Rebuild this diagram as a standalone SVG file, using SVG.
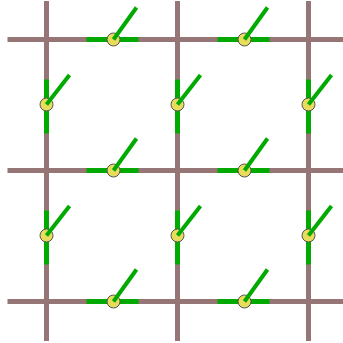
<svg xmlns="http://www.w3.org/2000/svg" width="343" height="343" viewBox="0 0 343 343">
<style>
.grid{stroke:#957575;stroke-width:5;fill:none}
.bar{stroke:#00aa00;stroke-width:5;fill:none}
.stem{stroke:#00aa00;stroke-width:4;stroke-linecap:butt;fill:none}
.site{fill:#e8dc5a;stroke:#555555;stroke-width:1}
</style>
<rect width="343" height="343" fill="#ffffff"/>
<g id="connectors">
<line class="grid" x1="46.5" y1="1" x2="46.5" y2="341"/>
<line class="grid" x1="177.5" y1="1" x2="177.5" y2="341"/>
<line class="grid" x1="308.5" y1="1" x2="308.5" y2="341"/>
<line class="grid" x1="7.5" y1="39.5" x2="343" y2="39.5"/>
<line class="grid" x1="7.5" y1="170.5" x2="343" y2="170.5"/>
<line class="grid" x1="7.5" y1="301.5" x2="343" y2="301.5"/>
</g>
<g id="h1"><line class="bar" x1="86.5" y1="39.5" x2="138.5" y2="39.5"/><circle class="site" cx="113.5" cy="39.5" r="6.5"/><line class="stem" x1="113.5" y1="39.5" x2="136.5" y2="7.5"/></g>
<g id="h2"><line class="bar" x1="217.5" y1="39.5" x2="269.5" y2="39.5"/><circle class="site" cx="244.5" cy="39.5" r="6.5"/><line class="stem" x1="244.5" y1="39.5" x2="267.5" y2="7.5"/></g>
<g id="h3"><line class="bar" x1="86.5" y1="170.5" x2="138.5" y2="170.5"/><circle class="site" cx="113.5" cy="170.5" r="6.5"/><line class="stem" x1="113.5" y1="170.5" x2="136.5" y2="138.5"/></g>
<g id="h4"><line class="bar" x1="217.5" y1="170.5" x2="269.5" y2="170.5"/><circle class="site" cx="244.5" cy="170.5" r="6.5"/><line class="stem" x1="244.5" y1="170.5" x2="267.5" y2="138.5"/></g>
<g id="h5"><line class="bar" x1="86.5" y1="301.5" x2="138.5" y2="301.5"/><circle class="site" cx="113.5" cy="301.5" r="6.5"/><line class="stem" x1="113.5" y1="301.5" x2="136.5" y2="269.5"/></g>
<g id="h6"><line class="bar" x1="217.5" y1="301.5" x2="269.5" y2="301.5"/><circle class="site" cx="244.5" cy="301.5" r="6.5"/><line class="stem" x1="244.5" y1="301.5" x2="267.5" y2="269.5"/></g>
<g id="v1"><line class="bar" x1="46.5" y1="79.5" x2="46.5" y2="133.5"/><circle class="site" cx="46.5" cy="104.5" r="6.5"/><line class="stem" x1="46.5" y1="104.5" x2="69.5" y2="75"/></g>
<g id="v2"><line class="bar" x1="177.5" y1="79.5" x2="177.5" y2="133.5"/><circle class="site" cx="177.5" cy="104.5" r="6.5"/><line class="stem" x1="177.5" y1="104.5" x2="200.5" y2="75"/></g>
<g id="v3"><line class="bar" x1="308.5" y1="79.5" x2="308.5" y2="133.5"/><circle class="site" cx="308.5" cy="104.5" r="6.5"/><line class="stem" x1="308.5" y1="104.5" x2="331.5" y2="75"/></g>
<g id="v4"><line class="bar" x1="46.5" y1="210.5" x2="46.5" y2="264.5"/><circle class="site" cx="46.5" cy="235.5" r="6.5"/><line class="stem" x1="46.5" y1="235.5" x2="69.5" y2="206"/></g>
<g id="v5"><line class="bar" x1="177.5" y1="210.5" x2="177.5" y2="264.5"/><circle class="site" cx="177.5" cy="235.5" r="6.5"/><line class="stem" x1="177.5" y1="235.5" x2="200.5" y2="206"/></g>
<g id="v6"><line class="bar" x1="308.5" y1="210.5" x2="308.5" y2="264.5"/><circle class="site" cx="308.5" cy="235.5" r="6.5"/><line class="stem" x1="308.5" y1="235.5" x2="331.5" y2="206"/></g>
</svg>
